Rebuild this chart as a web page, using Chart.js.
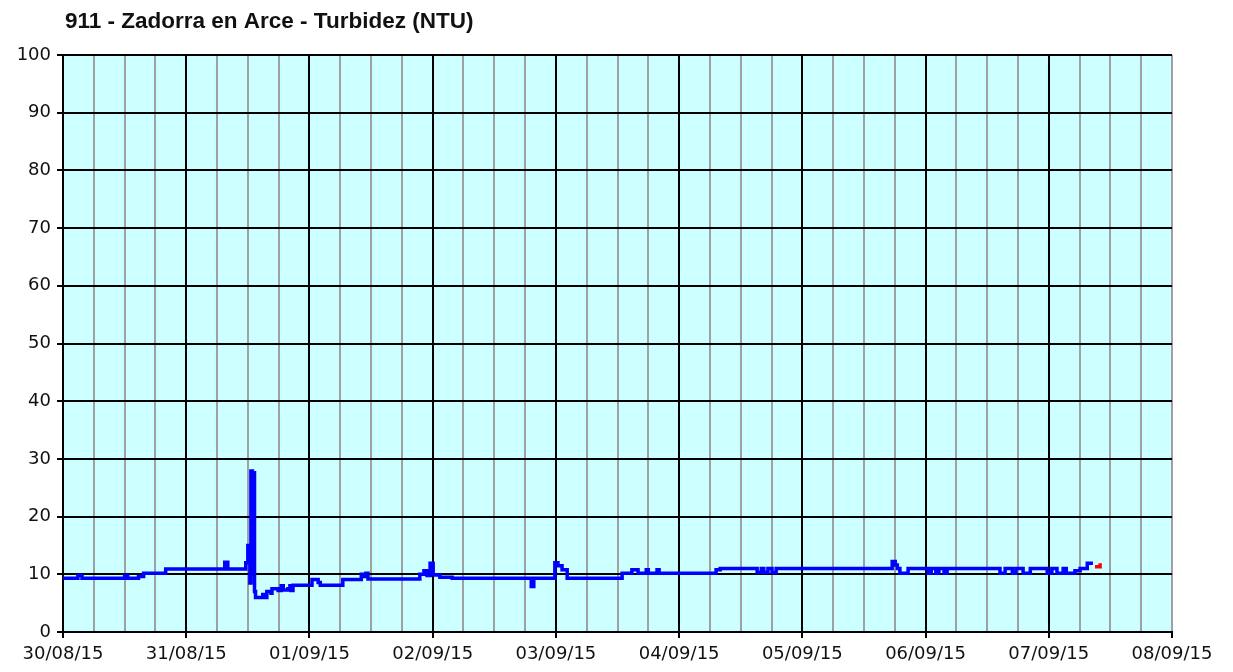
<!DOCTYPE html>
<html>
<head>
<meta charset="utf-8">
<script src="https://cdn.jsdelivr.net/npm/chart.js@4"></script>
<style>
html,body{margin:0;padding:0;background:#fff;}
#wrap{position:relative;width:1233px;height:672px;}
</style>
</head>
<body>
<div id="wrap"><canvas id="c" width="1233" height="672"></canvas></div>
<script>
const chartTitle = '911 - Zadorra en Arce - Turbidez (NTU)';
const dayLabels = ['30/08/15','31/08/15','01/09/15','02/09/15','03/09/15','04/09/15','05/09/15','06/09/15','07/09/15','08/09/15'];
// hours since 30/08/15 00:00
const hours = [0,2.9,3.7,12.0,12.6,14.7,15.7,20.0,31.5,32.1,35.6,36.0,36.4,36.6,36.9,37.1,37.3,37.5,38.9,39.3,39.7,40.5,40.7,41.9,42.5,42.9,43.8,44.2,44.4,44.8,48.5,49.7,50.1,54.5,58.1,58.6,59.0,59.4,69.5,70.3,70.9,71.5,72.1,73.4,75.8,91.2,91.7,95.8,96.4,97.2,98.2,108.9,110.8,112.0,113.6,114.0,115.7,116.1,127.2,128.0,135.2,136.0,136.5,137.3,138.1,138.9,161.5,162.1,162.5,163.0,164.6,168.5,169.1,170.0,170.6,171.6,172.2,182.5,183.5,184.9,185.6,187.0,188.4,191.7,192.6,193.6,194.8,195.4,197.1,198.1,199.5,200.6,201.0];
const turbidez = [9.3,9.8,9.3,9.8,9.3,9.6,10.2,10.9,12.1,10.9,12.0,15.0,8.5,27.9,10.0,27.6,7.0,6.0,6.5,6.0,7.0,6.7,7.5,7.2,8.0,7.3,7.5,8.0,7.2,8.1,9.1,8.6,8.1,9.1,10.0,9.6,10.2,9.2,10.0,10.6,9.8,11.9,9.9,9.5,9.3,7.9,9.3,12.0,11.5,10.8,9.3,10.2,10.8,10.2,10.8,10.2,10.8,10.2,10.8,11.0,10.3,11.0,10.3,11.0,10.3,11.0,12.2,11.6,11.0,10.2,11.0,10.2,11.0,10.2,11.0,10.2,11.0,10.2,11.0,10.2,11.0,10.2,11.0,10.2,11.0,10.2,11.0,10.2,10.6,11.0,11.9,11.9];
const lastHours = [201.0, 202.0];
const lastValues = [11.3, 11.9];
const yTicks = [0,10,20,30,40,50,60,70,80,90,100];

const mainData = hours.map((h,i)=>({x:h,y:turbidez[i]}));
const lastData = lastHours.map((h,i)=>({x:h,y:lastValues[i]}));

const bgPlugin = {
  id:'bg',
  beforeDraw(chart){
    const {ctx, chartArea:a} = chart;
    ctx.save();
    ctx.fillStyle = '#CCFFFF';
    ctx.fillRect(a.left, a.top, a.right-a.left, a.bottom-a.top);
    ctx.restore();
  },
  afterDraw(chart){
    const ctx = chart.ctx;
    ctx.save();
    ctx.fillStyle = '#111';
    ctx.font = 'bold 22.5px "Liberation Sans", Arial, sans-serif';
    ctx.textBaseline = 'alphabetic';
    ctx.fillText(chartTitle, 65, 28);
    ctx.restore();
  }
};

new Chart(document.getElementById('c'), {
  type:'line',
  data:{datasets:[
    {data:mainData, borderColor:'#0000FF', borderWidth:3.5, pointRadius:0, stepped:'before', fill:false},
    {data:lastData, borderColor:'#FF0000', borderWidth:3.5, pointRadius:0, stepped:'before', fill:false}
  ]},
  options:{
    responsive:false, animation:false,
    layout:{padding:{top:55,right:61,left:0,bottom:0}},
    plugins:{legend:{display:false}, tooltip:{enabled:false}},
    scales:{
      x:{
        type:'linear', min:0, max:216,
        afterFit(s){ s.height = 40; },
        afterBuildTicks(s){ const t=[]; for(let v=0; v<=216; v+=6) t.push({value:v}); s.ticks=t; },
        ticks:{
          autoSkip:false, maxRotation:0, padding:6, color:'#111',
          font:{family:'"DejaVu Sans", Verdana, sans-serif', size:18},
          callback(v){ return v%24===0 ? dayLabels[v/24] : ''; }
        },
        grid:{
          lineWidth:2, tickLength:6,
          color(c){ const v=c.tick.value; return (v%24===0 && v!==216) ? '#000' : '#a0a0a0'; },
          tickColor(c){ return c.tick.value%24===0 ? '#000' : 'rgba(0,0,0,0)'; }
        },
        border:{color:'#000', width:2}
      },
      y:{
        min:0, max:100,
        afterFit(s){ s.width = 63; },
        afterBuildTicks(s){ s.ticks = yTicks.map(v=>({value:v})); },
        ticks:{
          padding:6, color:'#111',
          font:{family:'"DejaVu Sans", Verdana, sans-serif', size:18}
        },
        grid:{lineWidth:2, tickLength:6, color:'#000', tickColor:'#000'},
        border:{color:'#000', width:2}
      }
    }
  },
  plugins:[bgPlugin]
});
</script>
</body>
</html>
